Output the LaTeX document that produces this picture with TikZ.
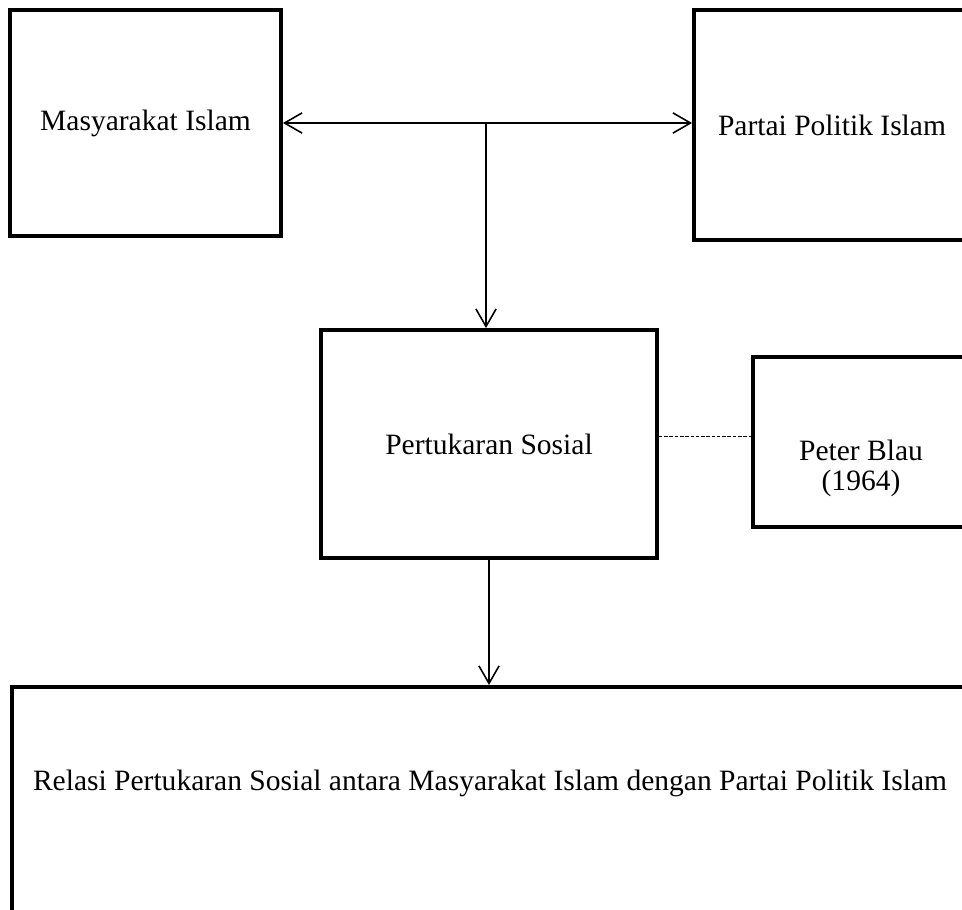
\documentclass[tikz,border=0pt]{standalone}
\usepackage{fontspec}
\setmainfont{Liberation Serif}
\usepackage{tikz}
\usetikzlibrary{arrows.meta, positioning, calc}
\tikzstyle{box} = [
    rectangle,
    draw=black,
    line width=2.2pt,
    fill=white,
    inner sep=0pt,
    text centered,
    font=\fontsize{16.8}{17}\selectfont
]
\tikzstyle{label text} = [
    inner sep=0pt,
    align=center,
    font=\fontsize{16.8}{17}\selectfont
]
\tikzstyle{arrow} = [
    line width=0.9pt,
    -{Straight Barb[length=10pt, width=11.5pt, line width=0.9pt]}
]
\tikzstyle{twoway} = [
    line width=0.9pt,
    {Straight Barb[length=10pt, width=11.5pt, line width=0.9pt]}-{Straight Barb[length=10pt, width=11.5pt, line width=0.9pt]}
]
\tikzstyle{link} = [
    line width=0.5pt,
    dash pattern=on 2pt off 1pt
]

\begin{document}
\begin{tikzpicture}[x=0.02cm, y=-0.02cm]
        % Frame
        \path[use as bounding box, clip] (0,0) rectangle (962,909);

        % Nodes
        \node[box, minimum width=271*0.02cm, minimum height=226*0.02cm] (masy) at (145.5,123) {Masyarakat Islam};
        \node[box, minimum width=276*0.02cm, minimum height=230*0.02cm] (partai) at (832,125) {Partai Politik Islam};
        \node[box, minimum width=336*0.02cm, minimum height=228*0.02cm] (tukar) at (489,444) {Pertukaran Sosial};
        \node[box, minimum width=217*0.02cm, minimum height=170*0.02cm] (blau) at (861.5,442) {};
        \node[label text] (blautext) at (861,468) {Peter Blau\\(1964)};
        \node[box, anchor=north west, minimum width=960*0.02cm, minimum height=260*0.02cm] (relasi) at (10,685) {};
        \node[label text] (relasitext) at (490,783) {Relasi Pertukaran Sosial antara Masyarakat Islam dengan Partai Politik Islam};

        % Connectors
        \coordinate (junc) at (486,123);
        \draw[twoway] (masy.east) -- (masy.east -| partai.west);
        \draw[arrow] (junc) -- (junc |- tukar.north);
        \draw[link] ([yshift=4.5pt]tukar.east) -- ([yshift=4.5pt]tukar.east -| blau.west);
        \draw[arrow] (tukar.south) -- (tukar.south |- relasi.north);
    \end{tikzpicture}
\end{document}
